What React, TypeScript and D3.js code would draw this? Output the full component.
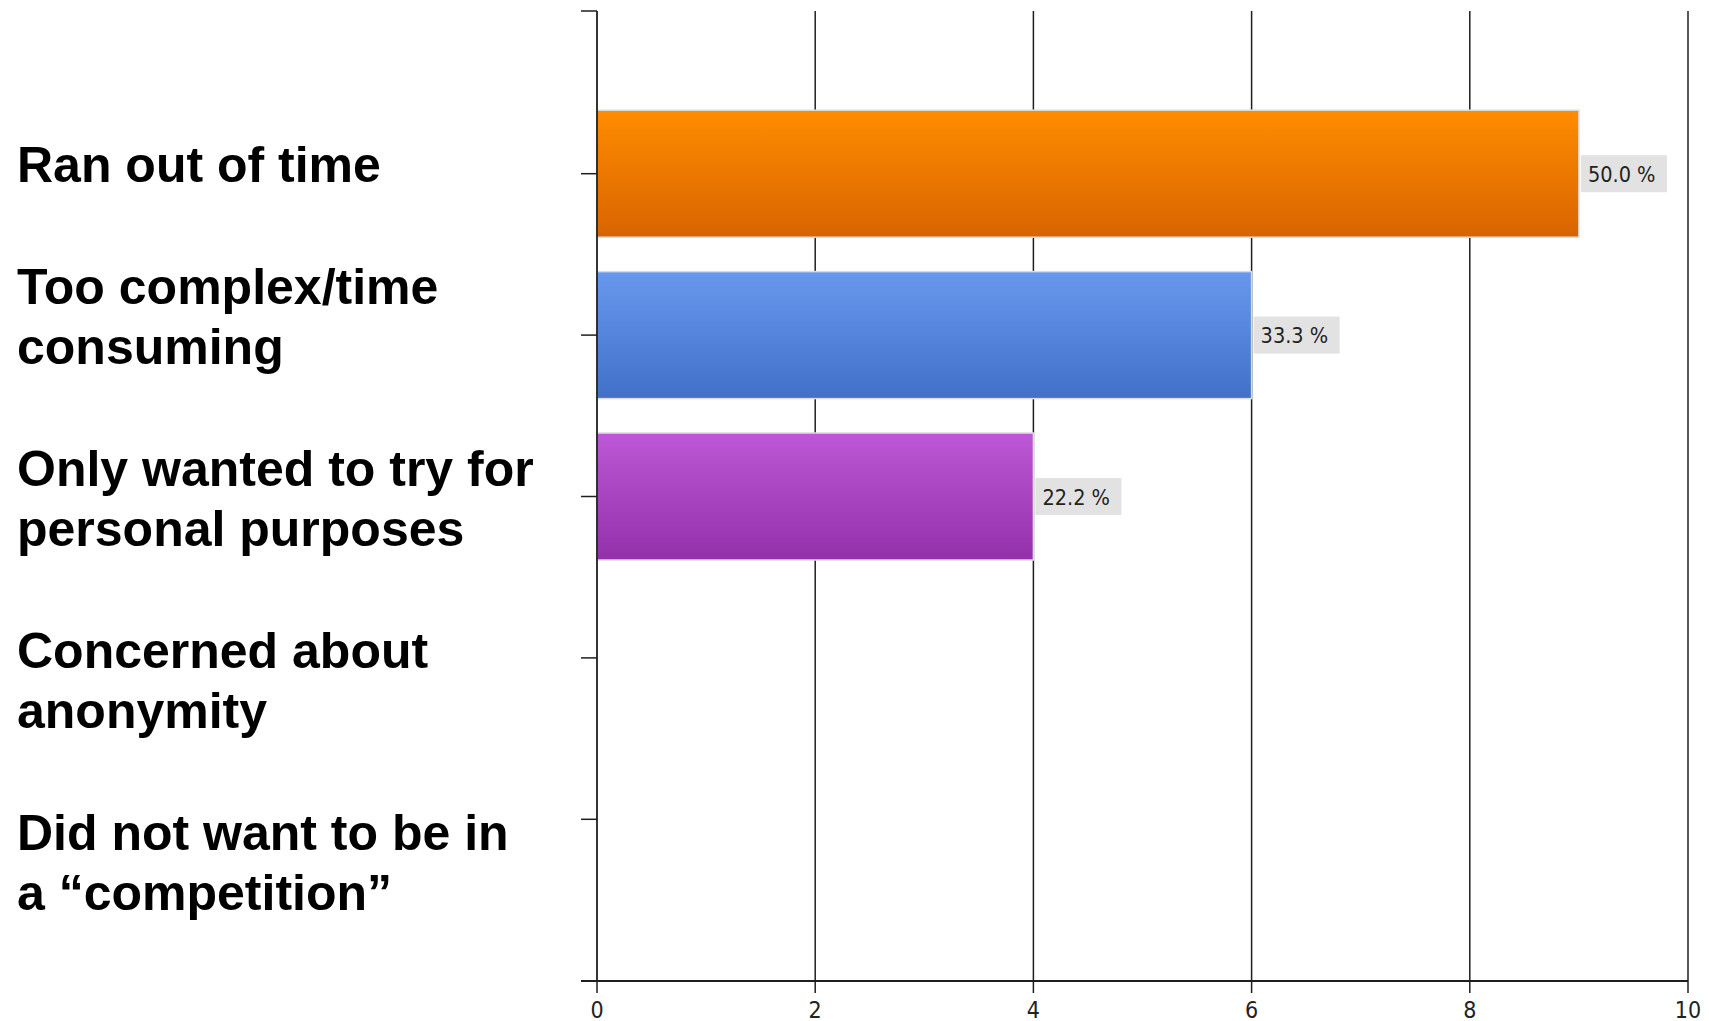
import React from "react";
import * as d3 from "d3";

// ---- data ----
const categories = [
  "Ran out of time",
  "Too complex/time consuming",
  "Only wanted to try for personal purposes",
  "Concerned about anonymity",
  "Did not want to be in a “competition”",
];
const labelLines = [
  ["Ran out of time"],
  ["Too complex/time", "consuming"],
  ["Only wanted to try for", "personal purposes"],
  ["Concerned about", "anonymity"],
  ["Did not want to be in", "a “competition”"],
];
const values = [9, 6, 4, 0, 0];
const percentLabels = ["50.0 %", "33.3 %", "22.2 %", "", ""];
const xTicks = [0, 2, 4, 6, 8, 10];
const barColors = [
  ["#ff8c00", "#d86400"],
  ["#6898ee", "#4070c8"],
  ["#bd58d6", "#9430aa"],
  ["#888888", "#666666"],
  ["#888888", "#666666"],
];

const W = 1709;
const H = 1021;

export default function App() {
  React.useEffect(() => {
    document.body.style.margin = "0";
  }, []);

  const x = d3.scaleLinear().domain([0, 10]).range([597, 1688]);
  const y = d3.scalePoint<string>().domain(categories).range([173.7, 819.3]);
  const plotTop = 11;
  const plotBottom = 981;
  const barH = 127;
  const x0 = x(0);

  // left text block layout
  const lineH = 60;
  const paraStep = 122;
  const baselines: number[][] = [];
  let cur = 182;
  labelLines.forEach((lines) => {
    const b = lines.map((_, i) => cur + i * lineH);
    baselines.push(b);
    cur = b[b.length - 1] + paraStep;
  });

  const axisColor = "#1e1e1e";
  const smallFont = "'DejaVu Sans Condensed', 'Liberation Sans', Arial, sans-serif";

  return (
    <svg
      width={W}
      height={H}
      style={{ position: "absolute", left: 0, top: 0, display: "block", background: "#fff" }}
    >
      <defs>
        {barColors.map((c, i) => (
          <linearGradient key={i} id={`g${i}`} x1="0" y1="0" x2="0" y2="1">
            <stop offset="0%" stopColor={c[0]} />
            <stop offset="100%" stopColor={c[1]} />
          </linearGradient>
        ))}
      </defs>
      <rect x={0} y={0} width={W} height={H} fill="#fff" />

      {/* vertical gridlines */}
      {xTicks.filter((t) => t > 0).map((t) => (
        <line
          key={`g${t}`}
          x1={x(t)}
          x2={x(t)}
          y1={plotTop}
          y2={plotBottom}
          stroke={axisColor}
          strokeWidth={1.5}
        />
      ))}

      {/* bars */}
      {categories.map((c, i) =>
        values[i] > 0 ? (
          <rect
            key={`b${i}`}
            x={x0}
            y={(y(c) as number) - barH / 2}
            width={x(values[i]) - x0}
            height={barH}
            fill={`url(#g${i})`}
            stroke="#dcdcdc"
            strokeWidth={1.5}
          />
        ) : null
      )}

      {/* value labels */}
      {categories.map((c, i) =>
        values[i] > 0 && percentLabels[i] ? (
          <g key={`l${i}`}>
            <rect
              x={x(values[i]) + 2}
              y={(y(c) as number) - 18.5}
              width={86}
              height={37}
              fill="#e2e2e2"
            />
            <text
              x={x(values[i]) + 9}
              y={(y(c) as number) + 8}
              fontFamily={smallFont}
              fontSize={21.5}
              fill="#222"
            >
              {percentLabels[i]}
            </text>
          </g>
        ) : null
      )}

      {/* y axis */}
      <line x1={x0} x2={x0} y1={plotTop} y2={plotBottom} stroke={axisColor} strokeWidth={1.8} />
      <line x1={581} x2={x0} y1={plotTop} y2={plotTop} stroke={axisColor} strokeWidth={1.5} />
      {categories.map((c) => (
        <line
          key={`yt${c}`}
          x1={581}
          x2={x0}
          y1={y(c) as number}
          y2={y(c) as number}
          stroke={axisColor}
          strokeWidth={1.5}
        />
      ))}

      {/* x axis */}
      <line x1={581} x2={x(10)} y1={plotBottom} y2={plotBottom} stroke={axisColor} strokeWidth={1.8} />
      {xTicks.map((t) => (
        <g key={`xt${t}`}>
          <line x1={x(t)} x2={x(t)} y1={plotBottom} y2={993} stroke={axisColor} strokeWidth={1.5} />
          <text
            x={x(t)}
            y={1018}
            textAnchor="middle"
            fontFamily={smallFont}
            fontSize={23}
            fill="#222"
          >
            {t}
          </text>
        </g>
      ))}

      {/* left category text */}
      {labelLines.map((lines, i) =>
        lines.map((ln, j) => (
          <text
            key={`t${i}-${j}`}
            x={17}
            y={baselines[i][j]}
            fontFamily="Arial, 'Liberation Sans', Helvetica, sans-serif"
            fontWeight="bold"
            fontSize={50}
            fill="#000"
          >
            {ln}
          </text>
        ))
      )}
    </svg>
  );
}
